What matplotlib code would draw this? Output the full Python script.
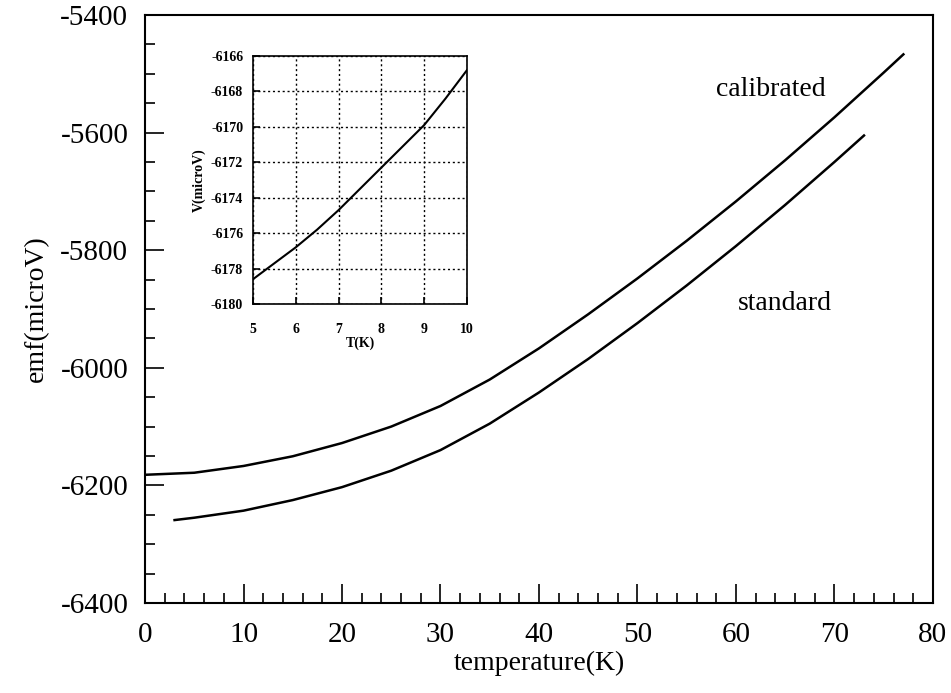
import matplotlib.pyplot as plt
from matplotlib.ticker import MultipleLocator

plt.rcParams['font.family'] = ['Liberation Serif', 'DejaVu Serif']
plt.rcParams['axes.unicode_minus'] = False

# main curves
cal_T = [0, 5, 10, 15, 20, 25, 30, 35, 40, 45, 50, 55, 60, 65, 70, 75, 77]
cal_V = [-6182, -6178.5, -6167, -6150.5, -6128, -6100, -6065, -6020, -5967, -5909,
         -5848, -5784, -5717, -5647, -5574, -5498, -5467]

std_T = [3, 5, 10, 15, 20, 25, 30, 35, 40, 45, 50, 55, 60, 65, 70, 73]
std_V = [-6259, -6255, -6243, -6225, -6203, -6175, -6140, -6095, -6042, -5985,
         -5924, -5860, -5793, -5723, -5650, -5605]

# inset zoom on the calibrated curve
ins_T = [5, 5.5, 6, 6.5, 7, 7.5, 8, 8.5, 9, 9.5, 10]
ins_V = [-6178.6, -6177.7, -6176.8, -6175.8, -6174.7, -6173.5, -6172.3, -6171.1,
         -6169.9, -6168.4, -6166.8]

fig = plt.figure(figsize=(9.51, 6.93), dpi=100)
ax = fig.add_axes([0.1525, 0.1299, 0.8285, 0.8485])

ax.plot(cal_T, cal_V, color='black', lw=1.8)
ax.plot(std_T, std_V, color='black', lw=1.8)

ax.set_xlim(0, 80)
ax.set_ylim(-6400, -5400)
ax.xaxis.set_major_locator(MultipleLocator(10))
ax.xaxis.set_minor_locator(MultipleLocator(2))
ax.yaxis.set_major_locator(MultipleLocator(200))
ax.yaxis.set_minor_locator(MultipleLocator(50))
ax.tick_params(which='both', direction='in', top=False, right=False, width=1.2)
ax.tick_params(which='major', length=14, labelsize=21)
ax.tick_params(which='minor', length=7)
ax.tick_params(axis='x', which='major', pad=14)
ax.tick_params(axis='y', which='major', pad=12)
for s in ax.spines.values():
    s.set_linewidth(1.5)

ax.set_xlabel('temperature(K)', fontsize=20, labelpad=2)
ax.set_ylabel('emf(microV)', fontsize=20, labelpad=8)

ax.text(63.5, -5526, 'calibrated', fontsize=20, ha='center', va='center')
ax.text(65.0, -5890, 'standard', fontsize=20, ha='center', va='center')

# inset
ins = fig.add_axes([0.266, 0.5613, 0.225, 0.3579])
ins.plot(ins_T, ins_V, color='black', lw=1.5)
ins.set_xlim(5, 10)
ins.set_ylim(-6180, -6166)
ins.set_xticks([5, 6, 7, 8, 9, 10])
ins.set_yticks(list(range(-6180, -6165, 2)))
ins.grid(True, color='black', linestyle=(0, (1.5, 2)), lw=1.0)
ins.tick_params(direction='in', length=5, width=1.2, labelsize=10)
ins.tick_params(axis='x', pad=14)
ins.tick_params(axis='y', pad=7)
for lab in ins.get_xticklabels() + ins.get_yticklabels():
    lab.set_fontweight('bold')
for s in ins.spines.values():
    s.set_linewidth(1.2)
ins.set_xlabel('T(K)', fontsize=10, fontweight='bold', labelpad=0)
ins.set_ylabel('V(microV)', fontsize=10, fontweight='bold', labelpad=4)

fig.savefig('out.png', dpi=100)
